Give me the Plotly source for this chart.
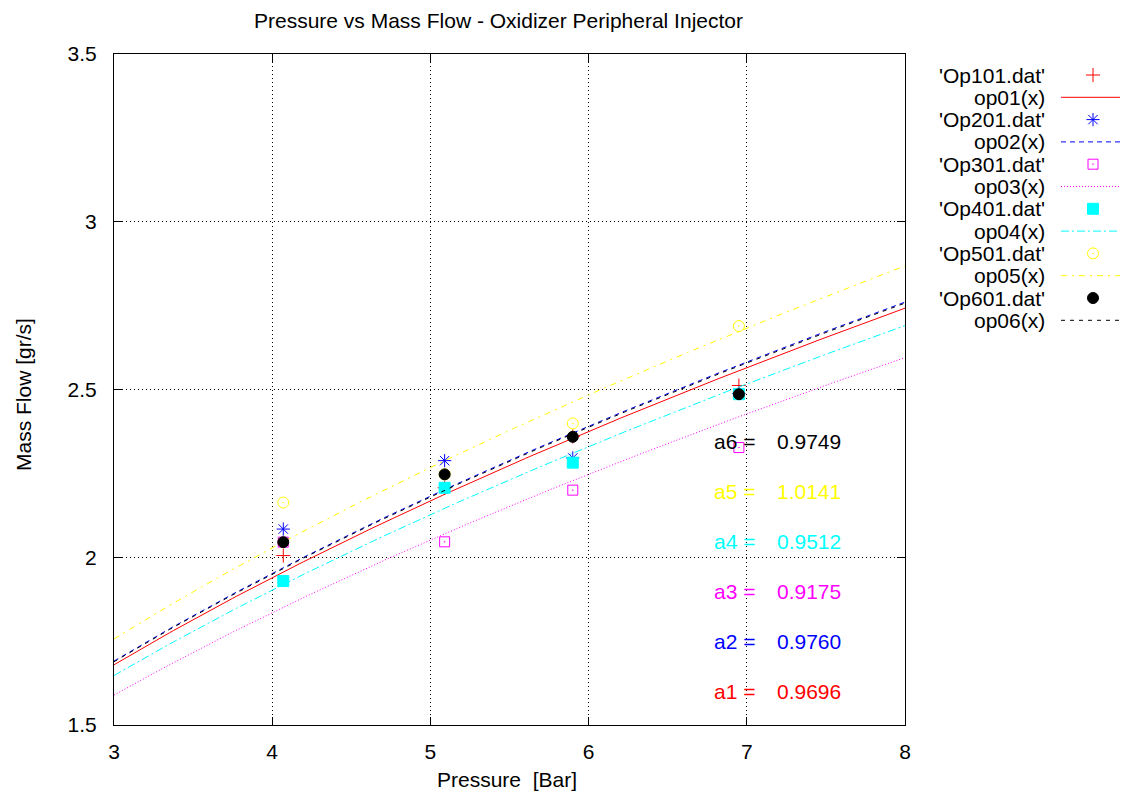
import numpy as np
import plotly.graph_objects as go

# ---------------- data ----------------
pressure_x = [4.07, 5.09, 5.90, 6.95]
op101 = [2.005, 2.207, 2.360, 2.512]
op201 = [2.084, 2.288, 2.296, 2.488]
op301 = [2.045, 2.046, 2.200, 2.327]
op401 = [1.929, 2.207, 2.282, 2.486]
op501 = [2.163, 2.247, 2.399, 2.689]
op601 = [2.045, 2.247, 2.359, 2.486]
series_values = [op101, op201, op301, op401, op501, op601]
series_names = ["'Op101.dat'", "'Op201.dat'", "'Op301.dat'", "'Op401.dat'", "'Op501.dat'", "'Op601.dat'"]
fit_names = ["op01(x)", "op02(x)", "op03(x)", "op04(x)", "op05(x)", "op06(x)"]
fit_coefs = [0.9696, 0.9760, 0.9175, 0.9512, 1.0141, 0.9749]  # op(x) = a*sqrt(x)
coef_labels = ["a1 =", "a2 =", "a3 =", "a4 =", "a5 =", "a6 ="]
x_ticks = [3, 4, 5, 6, 7, 8]
y_ticks = [1.5, 2, 2.5, 3, 3.5]

# ---------------- styles ----------------
colors = ["#ff0000", "#0000ff", "#ff00ff", "#00ffff", "#ffff00", "#000000"]
symbols = ["cross-thin-open", "asterisk-open", "square-open-dot", "square", "circle-open-dot", "circle"]
msizes = [10, 11, 10, 11, 11, 11]
dashes = ["solid", "5px,4px", "1px,2px", "8px,3px,2px,3px", "6px,5px,2px,5px", "4px,5px"]

W, H = 1128, 796
L, R, T, B = 114, 905, 54, 725
FONT = "Liberation Sans, Arial, sans-serif"
FS = 21

fig = go.Figure()
xs = np.linspace(3, 8, 201)
for i in range(6):
    fig.add_trace(go.Scatter(
        x=pressure_x, y=series_values[i], mode="markers", name=series_names[i],
        marker=dict(symbol=symbols[i], size=msizes[i], color=colors[i],
                    line=dict(color=colors[i], width=1)),
        showlegend=False, cliponaxis=False))
    fig.add_trace(go.Scatter(
        x=xs, y=fit_coefs[i] * np.sqrt(xs), mode="lines", name=fit_names[i],
        line=dict(color=colors[i], width=1, dash=dashes[i]), showlegend=False))

# ---------- gnuplot-style key (helper axis in pixel units) ----------
KX0, KX1, KY0, KY1 = 1050, 1128, 55, 340
row0, rowstep = 75.0, 22.3
sample_x0, sample_x1, sample_xm = 1061, 1120, 1093
text_right = 1047
annotations = []
for i in range(6):
    yp = row0 + rowstep * (2 * i)
    yl = row0 + rowstep * (2 * i + 1)
    fig.add_trace(go.Scatter(
        x=[sample_xm], y=[yp], xaxis="x2", yaxis="y2", mode="markers",
        marker=dict(symbol=symbols[i], size=msizes[i], color=colors[i],
                    line=dict(color=colors[i], width=1)),
        showlegend=False, hoverinfo="skip", cliponaxis=False))
    fig.add_trace(go.Scatter(
        x=[sample_x0, sample_x1], y=[yl, yl], xaxis="x2", yaxis="y2", mode="lines",
        line=dict(color=colors[i], width=1, dash=dashes[i]),
        showlegend=False, hoverinfo="skip"))
    annotations.append(dict(text=series_names[i], x=text_right / W, y=1 - yp / H,
                            xref="paper", yref="paper", xanchor="right", yanchor="middle",
                            showarrow=False, font=dict(family=FONT, size=FS, color="black")))
    annotations.append(dict(text=fit_names[i], x=text_right / W, y=1 - yl / H,
                            xref="paper", yref="paper", xanchor="right", yanchor="middle",
                            showarrow=False, font=dict(family=FONT, size=FS, color="black")))

# coefficient labels inside the plot (a6 at top, a1 at bottom)
for i in range(6):
    ypos = 1.601 + 0.149 * i
    annotations.append(dict(text=coef_labels[i], x=6.78, y=ypos, xref="x", yref="y",
                            xanchor="left", yanchor="middle", showarrow=False,
                            font=dict(family=FONT, size=FS, color=colors[i])))
    annotations.append(dict(text=f"{fit_coefs[i]:.4f}", x=7.18, y=ypos, xref="x", yref="y",
                            xanchor="left", yanchor="middle", showarrow=False,
                            font=dict(family=FONT, size=FS, color=colors[i])))

# title and axis titles
annotations.append(dict(text="Pressure vs Mass Flow - Oxidizer Peripheral Injector",
                        x=498 / W, y=1 - 20 / H, xref="paper", yref="paper",
                        xanchor="center", yanchor="middle", showarrow=False,
                        font=dict(family=FONT, size=FS, color="black")))
annotations.append(dict(text="Pressure\u00a0\u00a0[Bar]", x=507 / W, y=1 - 779 / H,
                        xref="paper", yref="paper", xanchor="center", yanchor="middle",
                        showarrow=False, font=dict(family=FONT, size=FS, color="black")))
annotations.append(dict(text="Mass Flow [gr/s]", x=23 / W, y=1 - 395 / H, textangle=-90,
                        xref="paper", yref="paper", xanchor="center", yanchor="middle",
                        showarrow=False, font=dict(family=FONT, size=FS, color="black")))

axis_common = dict(showline=True, linecolor="black", linewidth=1, mirror="ticks",
                   ticks="inside", ticklen=8, tickcolor="black", tickwidth=1,
                   showgrid=True, gridcolor="black", gridwidth=1, griddash="1px,3px",
                   zeroline=False, automargin=False,
                   tickfont=dict(family=FONT, size=FS, color="black"))

fig.update_layout(
    width=W, height=H,
    margin=dict(l=0, r=0, t=0, b=0),
    paper_bgcolor="white", plot_bgcolor="white",
    showlegend=False,
    xaxis=dict(domain=[L / W, R / W], range=[3, 8], tickvals=x_ticks,
               ticktext=[str(v) for v in x_ticks], ticklabelstandoff=8, **axis_common),
    yaxis=dict(domain=[1 - B / H, 1 - T / H], range=[1.5, 3.5], tickvals=y_ticks,
               ticktext=[("%g" % v) for v in y_ticks], ticklabelstandoff=12, **axis_common),
    xaxis2=dict(domain=[KX0 / W, KX1 / W], range=[KX0, KX1], visible=False, anchor="y2"),
    yaxis2=dict(domain=[1 - KY1 / H, 1 - KY0 / H], range=[KY1, KY0], visible=False, anchor="x2"),
    annotations=annotations,
)

fig.write_html("out.html", config={"displayModeBar": False},
               post_script="document.body.style.margin='0px';document.body.style.overflow='hidden';")
